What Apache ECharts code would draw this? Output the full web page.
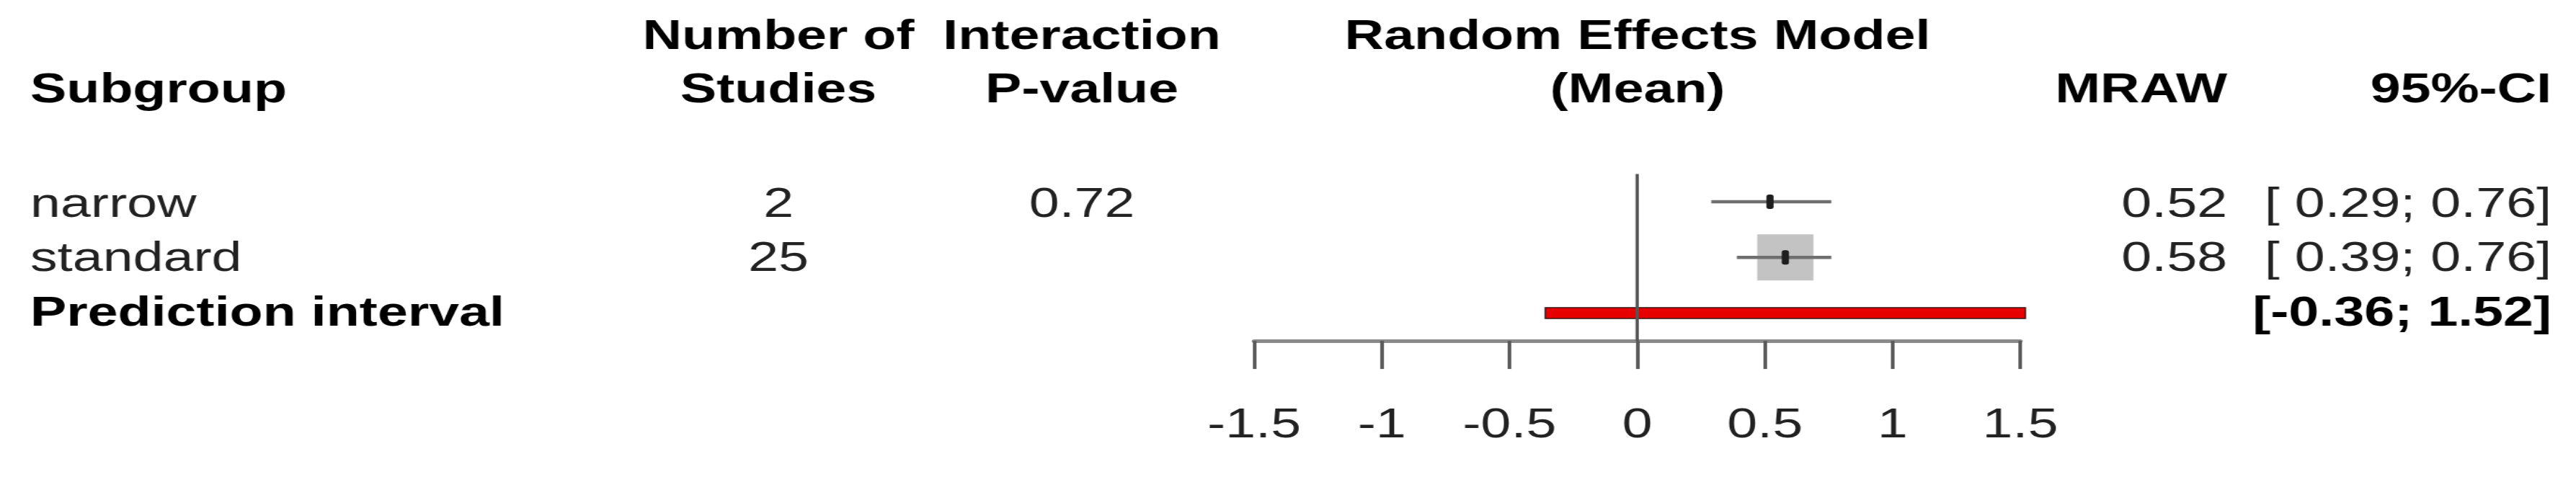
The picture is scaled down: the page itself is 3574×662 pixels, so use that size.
<!DOCTYPE html>
<html>
<head>
<meta charset="utf-8">
<title>Subgroup forest plot</title>
<script src="https://cdn.jsdelivr.net/npm/echarts@6.0.0/dist/echarts.min.js"></script>
<style>
  html, body { margin: 0; padding: 0; background: #fff; overflow: hidden; }
  /* the source picture is stretched sideways, so the chart is drawn narrow and widened */
  #forest { height: 662px; transform: scaleX(1.3); transform-origin: 0 0; }
</style>
</head>
<body>
<div id="forest"></div>
<script>
const subgroups = ['narrow', 'standard']
const nStudies = [2, 25]
const interactionP = ['0.72', '']
const mraw = [0.52, 0.58]
const ciLower = [0.29, 0.39]
const ciUpper = [0.76, 0.76]
const predInterval = [-0.36, 1.52]
const xTicks = [-1.5, -1, -0.5, 0, 0.5, 1, 1.5]

const SX = 1.3
const X = v => v / SX // picture x -> chart x
const FONT = "'Liberation Sans', Arial, sans-serif"
const maxStudies = Math.max(...nStudies)

function fmt(v) {
  return (v < 0 ? '' : ' ') + v.toFixed(2)
}

const el = document.getElementById('forest')
el.style.width = (3574 / SX) + 'px'
const chart = echarts.init(el)

function txt(text, x, y, align, bold) {
  return {
    type: 'text',
    x: x,
    y: y,
    style: {
      text: text,
      fontFamily: FONT,
      fontSize: 58,
      fontWeight: bold ? 'bold' : 'normal',
      fill: bold ? '#000' : '#222',
      align: align,
      verticalAlign: 'middle'
    }
  }
}

const col = { sub: X(42), studies: X(1080), pval: X(1501), model: X(2272), mraw: X(3090), ci: X(3540) }
const head1 = 52
const head2 = 126
const rowY = [285, 360, 436]

const texts = [
  txt('Subgroup', col.sub, head2, 'left', true),
  txt('Number of', col.studies, head1, 'center', true),
  txt('Studies', col.studies, head2, 'center', true),
  txt('Interaction', col.pval, head1, 'center', true),
  txt('P-value', col.pval, head2, 'center', true),
  txt('Random Effects Model', col.model, head1, 'center', true),
  txt('(Mean)', col.model, head2, 'center', true),
  txt('MRAW', col.mraw, head2, 'right', true),
  txt('95%-CI', col.ci, head2, 'right', true)
]
subgroups.forEach((name, i) => {
  texts.push(txt(name, col.sub, rowY[i], 'left', false))
  texts.push(txt(String(nStudies[i]), col.studies, rowY[i], 'center', false))
  if (interactionP[i]) texts.push(txt(interactionP[i], col.pval, rowY[i], 'center', false))
  texts.push(txt(mraw[i].toFixed(2), col.mraw, rowY[i], 'right', false))
  texts.push(txt('[' + fmt(ciLower[i]) + ';' + fmt(ciUpper[i]) + ']', col.ci, rowY[i], 'right', false))
})
texts.push(txt('Prediction interval', col.sub, rowY[2], 'left', true))
texts.push(txt('[' + fmt(predInterval[0]) + ';' + fmt(predInterval[1]) + ']', col.ci, rowY[2], 'right', true))

chart.setOption({
  animation: false,
  grid: {
    left: X(1740),
    width: X(2803) - X(1740),
    top: 241.4,
    height: 231.7,
    outerBoundsMode: 'none'
  },
  xAxis: {
    type: 'value',
    min: xTicks[0],
    max: xTicks[xTicks.length - 1],
    interval: xTicks[1] - xTicks[0],
    axisLine: { lineStyle: { color: '#8a8a8a', width: 5 } },
    axisTick: { inside: false, length: 39, lineStyle: { color: '#5a5a5a', width: X(5) } },
    axisLabel: {
      color: '#222',
      fontFamily: FONT,
      fontSize: 58,
      margin: 118,
      verticalAlign: 'middle'
    },
    splitLine: { show: false }
  },
  yAxis: {
    type: 'value',
    min: 0.5,
    max: 3.5,
    inverse: true,
    show: false
  },
  graphic: texts,
  series: [{
    // subgroup squares and confidence intervals
    type: 'custom',
    data: subgroups.map((s, i) => [ciLower[i], ciUpper[i], mraw[i], i + 1, nStudies[i]]),
    renderItem(params, api) {
      const row = api.value(3)
      const lo = api.coord([api.value(0), row])
      const hi = api.coord([api.value(1), row])
      const mid = api.coord([api.value(2), row])
      const share = api.value(4) / maxStudies
      const bw = X(78) * share
      const bh = 64 * share
      return {
        type: 'group',
        children: [
          { type: 'rect', shape: { x: mid[0] - bw / 2, y: mid[1] - bh / 2, width: bw, height: bh }, style: { fill: '#c3c3c3' } },
          { type: 'line', shape: { x1: lo[0], y1: lo[1], x2: hi[0], y2: hi[1] }, style: { stroke: '#6f6f6f', lineWidth: 4.5 } },
          { type: 'rect', shape: { x: mid[0] - X(10) / 2, y: mid[1] - 10, width: X(10), height: 20, r: 3 }, style: { fill: '#1e1e1e' } }
        ]
      }
    }
  }, {
    // prediction interval bar
    type: 'custom',
    data: [[predInterval[0], predInterval[1], 3]],
    renderItem(params, api) {
      const lo = api.coord([api.value(0), api.value(2)])
      const hi = api.coord([api.value(1), api.value(2)])
      return {
        type: 'rect',
        shape: { x: lo[0], y: lo[1] - 7.5, width: hi[0] - lo[0], height: 15 },
        style: { fill: '#e60000', stroke: '#3a1010', lineWidth: 1.5 }
      }
    }
  }, {
    // line of no effect
    type: 'custom',
    data: [[0]],
    z: 5,
    renderItem(params, api) {
      const top = api.coord([api.value(0), 0.5])
      const bottom = api.coord([api.value(0), 3.5])
      return {
        type: 'line',
        shape: { x1: top[0], y1: top[1], x2: bottom[0], y2: bottom[1] },
        style: { stroke: '#555', lineWidth: X(4.5) }
      }
    }
  }]
})
</script>
</body>
</html>
